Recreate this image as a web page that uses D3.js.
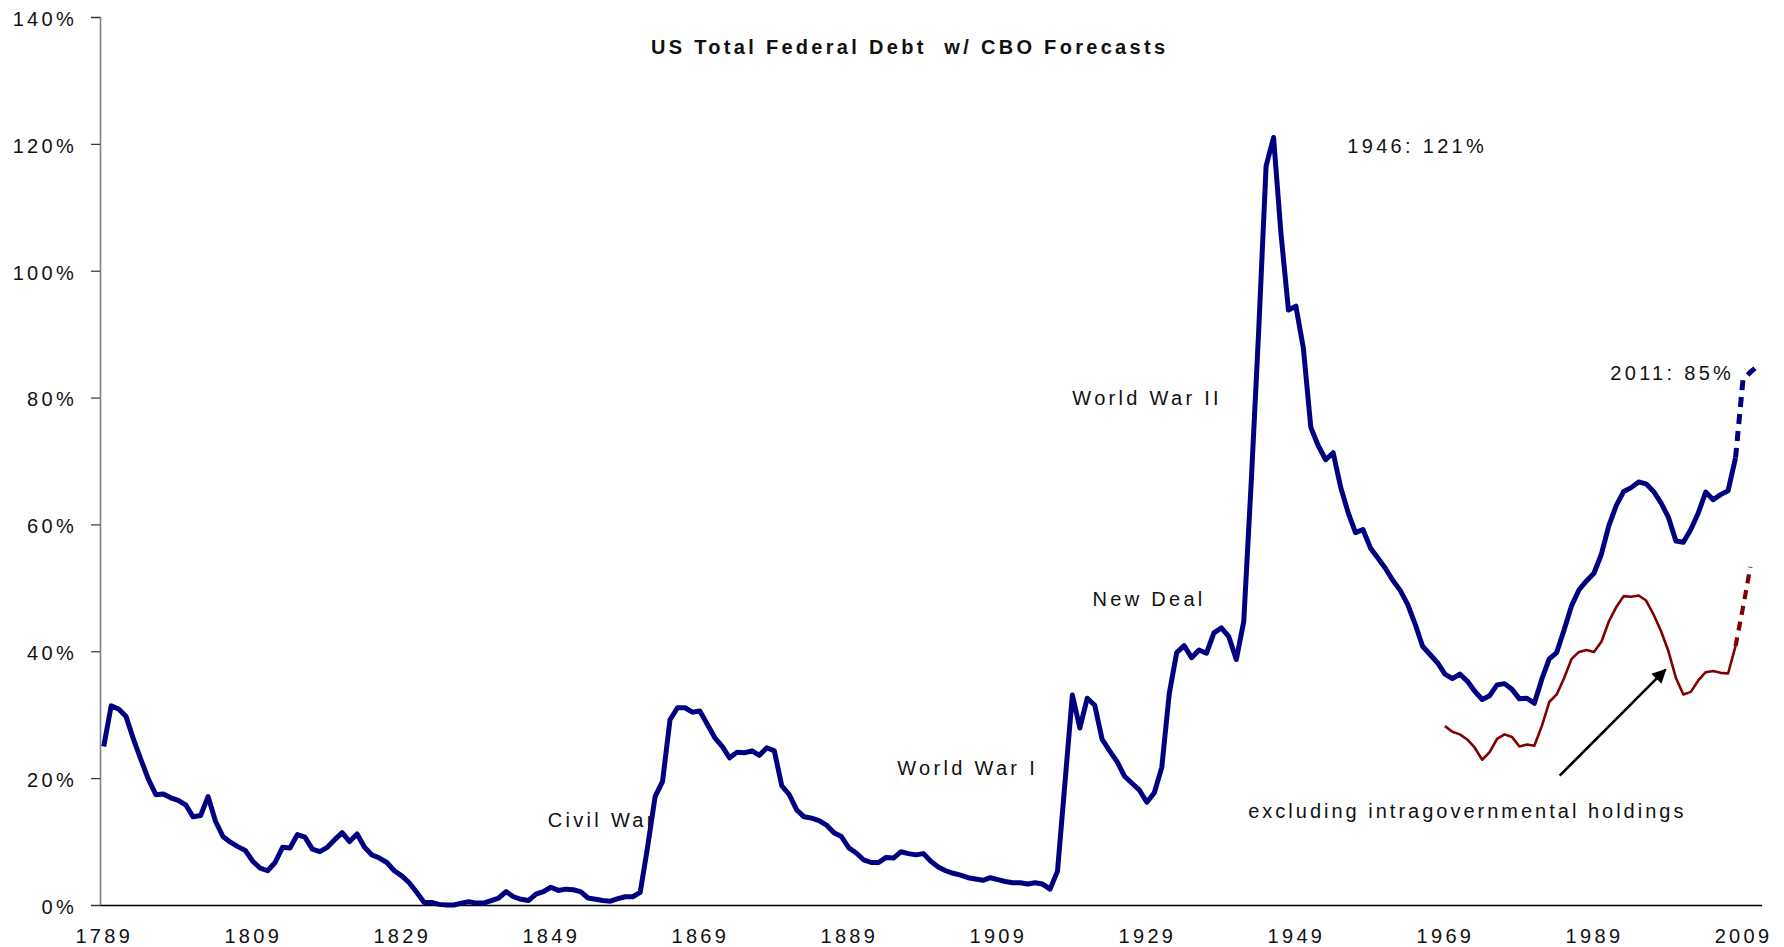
<!DOCTYPE html>
<html>
<head>
<meta charset="utf-8">
<title>US Total Federal Debt w/ CBO Forecasts</title>
<script src="https://cdn.jsdelivr.net/npm/d3@7"></script>
<style>
  html, body { margin: 0; padding: 0; background: #fff; }
  svg { display: block; }
  text { font-family: "Liberation Sans", Arial, sans-serif; font-size: 20px; letter-spacing: 3.3px; fill: #111; }
</style>
</head>
<body>
<svg id="chart" width="1784" height="947"></svg>
<script>
// Federal debt as a share of GDP (%), one value per fiscal year.
const firstYear = 1789;
const lastYear = 2011;

// Total federal debt, 1789-2008 (actual)
const totalDebt = [
  25.0, 31.4, 30.9, 29.7, 26.1, 22.9, 19.8, 17.4, 17.5, 16.9, // 1789-1798
  16.5, 15.8, 13.9, 14.1, 17.1, 13.2, 10.8, 9.9, 9.2, 8.6,    // 1799-1808
  6.9, 5.8, 5.4, 6.7, 9.1, 9.0, 11.1, 10.7, 8.8, 8.4,         // 1809-1818
  9.1, 10.3, 11.4, 10.0, 11.2, 9.1, 7.9, 7.4, 6.7, 5.4,       // 1819-1828
  4.6, 3.5, 2.0, 0.4, 0.4, 0.1, 0.0, 0.0, 0.3, 0.5,           // 1829-1838
  0.3, 0.3, 0.7, 1.1, 2.1, 1.3, 0.9, 0.7, 1.7, 2.1,           // 1839-1848
  2.8, 2.3, 2.5, 2.4, 2.1, 1.1, 0.9, 0.7, 0.6, 1.0,           // 1849-1858
  1.3, 1.3, 2.0, 9.2, 17.1, 19.5, 29.2, 31.1, 31.1, 30.4,     // 1859-1868
  30.6, 28.5, 26.4, 25.0, 23.2, 24.1, 24.0, 24.3, 23.6, 24.8, // 1869-1878
  24.3, 18.8, 17.4, 15.0, 13.9, 13.7, 13.3, 12.6, 11.4, 10.8, // 1879-1888
  9.0, 8.2, 7.1, 6.7, 6.7, 7.5, 7.4, 8.4, 8.1, 7.9,           // 1889-1898
  8.1, 6.9, 6.0, 5.4, 5.0, 4.7, 4.3, 4.1, 3.9, 4.3,           // 1899-1908
  4.0, 3.7, 3.5, 3.5, 3.3, 3.5, 3.3, 2.5, 5.3, 19.2,          // 1909-1918
  33.1, 27.9, 32.6, 31.5, 26.1, 24.3, 22.6, 20.3, 19.2, 18.1, // 1919-1928
  16.2, 17.7, 21.7, 33.3, 39.8, 40.9, 39.0, 40.2, 39.7, 42.9, // 1929-1938
  43.7, 42.3, 38.7, 44.7, 66.6, 90.4, 116.5, 121.0, 105.8, 93.8, // 1939-1948
  94.4, 87.8, 75.3, 72.4, 70.2, 71.3, 65.9, 61.9, 58.7, 59.2, // 1949-1958
  56.3, 54.7, 53.1, 51.2, 49.6, 47.4, 44.3, 40.8, 39.5, 38.2, // 1959-1968
  36.4, 35.7, 36.4, 35.3, 33.7, 32.4, 33.0, 34.7, 34.9, 34.0, // 1969-1978
  32.5, 32.6, 31.8, 35.6, 38.8, 39.8, 43.4, 47.2, 49.7, 51.1, // 1979-1988
  52.3, 55.3, 59.8, 63.0, 65.2, 65.8, 66.7, 66.4, 65.2, 63.4, // 1989-1998
  61.1, 57.4, 57.2, 59.2, 61.8, 65.1, 63.9, 64.7, 65.3, 70.5  // 1999-2008
];
const totalDebtStart = 1789;

// Total federal debt, CBO forecast 2008-2011
const totalDebtForecast = [70.5, 82.8, 84.0, 85.0];
const totalDebtForecastStart = 2008;

// Debt held by the public (excluding intragovernmental holdings), 1969-2008
const publicDebt = [
  28.2, 27.3, 26.9, 26.1, 24.8, 22.9, 24.1, 26.2, 26.9, 26.5, // 1969-1978
  25.0, 25.3, 25.1, 28.2, 32.0, 33.2, 35.8, 38.8, 39.9, 40.2, // 1979-1988
  39.9, 41.5, 44.7, 47.0, 48.7, 48.6, 48.8, 48.0, 45.8, 43.2, // 1989-1998
  40.0, 35.8, 33.2, 33.6, 35.4, 36.7, 36.9, 36.6, 36.5, 40.8  // 1999-2008
];
const publicDebtStart = 1969;

// Debt held by the public, CBO forecast 2008-2010
const publicDebtForecast = [40.8, 46.9, 53.3];
const publicDebtForecastStart = 2008;

// Axis ticks
const yTicks = [0, 20, 40, 60, 80, 100, 120, 140];
const xTickYears = [1789, 1809, 1829, 1849, 1869, 1889, 1909, 1929, 1949, 1969, 1989, 2009];

// Text annotations, anchored in (year, percent) units
const annotationText = ["Civil War", "World War I", "New Deal", "World War II",
                        "1946: 121%", "2011: 85%", "excluding intragovernmental holdings"];
const annotationYear = [1848.6, 1895.5, 1921.7, 1919.0, 1955.9, 1991.2, 1942.6];
const annotationPct  = [12.3, 20.5, 47.2, 78.9, 118.6, 82.7, 13.7];

// Arrow pointing at the public-debt line (year, percent)
const arrowFrom = [1984.4, 20.4];
const arrowTo = [1998.6, 37.1];

const title = "US Total Federal Debt  w/ CBO Forecasts";

// ---------------------------------------------------------------
const svg = d3.select("#chart");
const years = d3.range(firstYear, lastYear + 1);

const x = d3.scalePoint().domain(years).range([100, 1761.6]).padding(0.5);
const xLin = d3.scaleLinear().domain([firstYear, lastYear]).range([x(firstYear), x(lastYear)]);
const y = d3.scaleLinear().domain([0, 140]).range([905, 17]);

const toPoints = (vals, start) => vals.map((v, i) => ({ year: start + i, value: v }));

// Title (keeps the double space before "w/")
svg.append("text")
  .attr("x", 651).attr("y", 54)
  .style("font-weight", "bold")
  .style("white-space", "pre")
  .text(title);

// Y axis
const yAxis = svg.append("g")
  .attr("transform", `translate(${x.range()[0]},0)`)
  .call(d3.axisLeft(y).tickValues(yTicks).tickSize(9).tickPadding(14).tickFormat(d => d + "%"));
yAxis.attr("font-family", null).attr("font-size", null);
yAxis.select(".domain").attr("stroke", "#808080").attr("stroke-width", 1.6);
yAxis.selectAll(".tick line").attr("stroke", "#333").attr("stroke-width", 1.2);
yAxis.selectAll(".tick text").attr("dy", "0.42em").attr("fill", "#111");

// X axis
const xAxis = svg.append("g")
  .attr("transform", `translate(0,${y(0)})`)
  .call(d3.axisBottom(x).tickValues(xTickYears).tickSize(0).tickPadding(24).tickSizeOuter(0));
xAxis.attr("font-family", null).attr("font-size", null);
xAxis.select(".domain").attr("stroke", "#000").attr("stroke-width", 1.4);
xAxis.selectAll(".tick text").attr("fill", "#111");

// Annotations (drawn beneath the lines)
svg.append("g").selectAll("text")
  .data(annotationText)
  .join("text")
  .attr("x", (d, i) => xLin(annotationYear[i]))
  .attr("y", (d, i) => y(annotationPct[i]))
  .style("letter-spacing", d => d.length > 20 ? "3px" : null)
  .text(d => d);

// Lines
const line = d3.line().x(d => x(d.year)).y(d => y(d.value));

svg.append("path")
  .datum(toPoints(publicDebt, publicDebtStart))
  .attr("fill", "none").attr("stroke", "#800000").attr("stroke-width", 2.6)
  .attr("stroke-linejoin", "round").attr("d", line);

svg.append("path")
  .datum(toPoints(publicDebtForecast, publicDebtForecastStart))
  .attr("fill", "none").attr("stroke", "#800000").attr("stroke-width", 4.2)
  .attr("stroke-dasharray", "9,7").attr("d", line);

svg.append("path")
  .datum(toPoints(totalDebt, totalDebtStart))
  .attr("fill", "none").attr("stroke", "#000080").attr("stroke-width", 5)
  .attr("stroke-linejoin", "round").attr("d", line);

svg.append("path")
  .datum(toPoints(totalDebtForecast, totalDebtForecastStart))
  .attr("fill", "none").attr("stroke", "#000080").attr("stroke-width", 5)
  .attr("stroke-dasharray", "10,7").attr("d", line);

// Arrow
svg.append("defs").append("marker")
  .attr("id", "arrowhead")
  .attr("viewBox", "0 0 10 10")
  .attr("refX", 9).attr("refY", 5)
  .attr("markerWidth", 6.5).attr("markerHeight", 5.5)
  .attr("markerUnits", "strokeWidth")
  .attr("orient", "auto")
  .append("path").attr("d", "M0,0 L10,5 L0,10 Z").attr("fill", "#000");

svg.append("line")
  .attr("x1", xLin(arrowFrom[0])).attr("y1", y(arrowFrom[1]))
  .attr("x2", xLin(arrowTo[0])).attr("y2", y(arrowTo[1]))
  .attr("stroke", "#000").attr("stroke-width", 2.6)
  .attr("marker-end", "url(#arrowhead)");
</script>
</body>
</html>
